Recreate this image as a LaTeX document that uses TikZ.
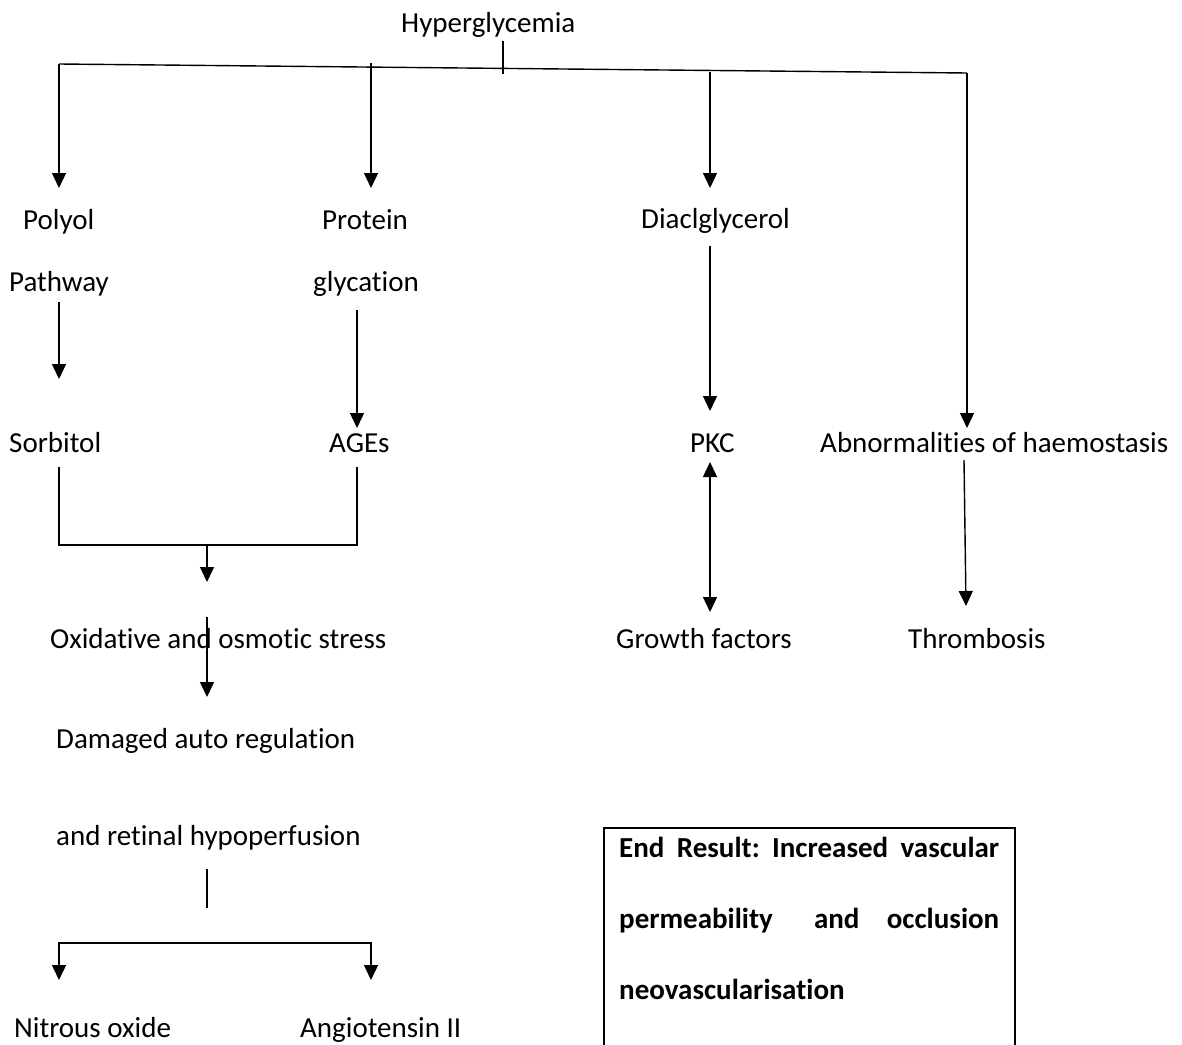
\documentclass[tikz,border=0pt]{standalone}
\usepackage{fontspec}
\setmainfont[Ligatures=NoCommon]{Carlito}
\usetikzlibrary{arrows.meta}
\frenchspacing
\begin{document}
\begin{tikzpicture}[x=1pt,y=-1pt,
  lbl/.style={anchor=base west,inner sep=0pt,font=\fontsize{29}{34}\selectfont},
  blbl/.style={anchor=base west,inner sep=0pt,font=\fontsize{29}{34}\selectfont\bfseries},
  ln/.style={line width=1.4pt},
  arr/.style={ln,-{Triangle[width=14pt,length=15pt]}},
  darr/.style={ln,{Triangle[width=14pt,length=15pt]}-{Triangle[width=14pt,length=15pt]}}]
\useasboundingbox (0,0) rectangle (1182,1044);
% text nodes
\node[lbl] (hyp) at (401,32) {Hyperglycemia};
\node[lbl] (polyol) at (23,229) {Polyol};
\node[lbl] (pathway) at (9,291) {Pathway};
\node[lbl] (protein) at (322,229) {Protein};
\node[lbl] (glyc) at (313,291) {glycation};
\node[lbl] (dag) at (641,228) {Diaclglycerol};
\node[lbl] (sorb) at (9,452) {Sorbitol};
\node[lbl] (ages) at (329,452) {AGEs};
\node[lbl] (pkc) at (690,452) {PKC};
\node[lbl] (abn) at (820,452) {Abnormalities of haemostasis};
\node[lbl] (oxi) at (50,648) {Oxidative and osmotic stress};
\node[lbl] (gf) at (616,648) {Growth factors};
\node[lbl] (thr) at (908,648) {Thrombosis};
\node[lbl] (dam) at (56,748) {Damaged auto regulation};
\node[lbl] (ret) at (56,845) {and retinal hypoperfusion};
\node[lbl] (no) at (14,1037) {Nitrous oxide};
\node[lbl] (ang) at (300,1037) {Angiotensin II};
% end result box
\draw[ln] (604,1046) coordinate (bl) -- (604,828) coordinate (tl) -- (1015,828) coordinate (tr) -- (1015,1046) coordinate (br);
\node[blbl] (er1) at (619,857) {\makebox[380pt][s]{End Result: Increased vascular}};
\node[blbl] (er2) at (619,928) {\makebox[380pt][l]{permeability\hskip 0pt plus 1.5fill and\hskip 0pt plus 1fill occlusion}};
\node[blbl] (er3) at (619,999) {neovascularisation};
% top branch
\coordinate (tL) at (59,64);
\coordinate (tR) at (967,73);
\coordinate (tick1) at (503,41);
\coordinate (tick2) at (503,74);
\draw[ln] (tL) -- (tR);
\draw[ln] (tick1) -- (tick2);
\coordinate (b2) at (371,63);
\coordinate (b3) at (710,72);
\draw[arr] (tL) -- (59,188) coordinate (polyolIn);
\draw[arr] (b2) -- (371,188) coordinate (proteinIn);
\draw[arr] (b3) -- (710,188) coordinate (dagIn);
\draw[arr] (tR) -- (967,428) coordinate (abnIn);
% left column
\draw[arr] (59,302) coordinate (pwOut) -- (59,379) coordinate (sorbIn);
\draw[arr] (357,310) coordinate (glOut) -- (357,428) coordinate (agesIn);
\draw[ln] (59,467) coordinate (sorbOut) -- (59,545) -- (357,545) -- (357,467) coordinate (agesOut);
\coordinate (mrg) at (207,545);
\draw[arr] (mrg) -- (207,582) coordinate (oxiIn);
\draw[arr] (207,617) coordinate (oxiOut) -- (207,697) coordinate (damIn);
\draw[ln] (207,869) coordinate (retOut) -- (207,908);
\draw[arr] (207,943) coordinate (spl) -| (59,980) coordinate (noIn);
\draw[arr] (spl) -| (371,980) coordinate (angIn);
% right columns
\draw[arr] (710,246) coordinate (dagOut) -- (710,411) coordinate (pkcIn);
\draw[darr] (710,462) coordinate (pkcOut) -- (710,612) coordinate (gfIn);
\draw[arr] (964,460) coordinate (abnOut) -- (966,606) coordinate (thrIn);
\end{tikzpicture}
\end{document}
